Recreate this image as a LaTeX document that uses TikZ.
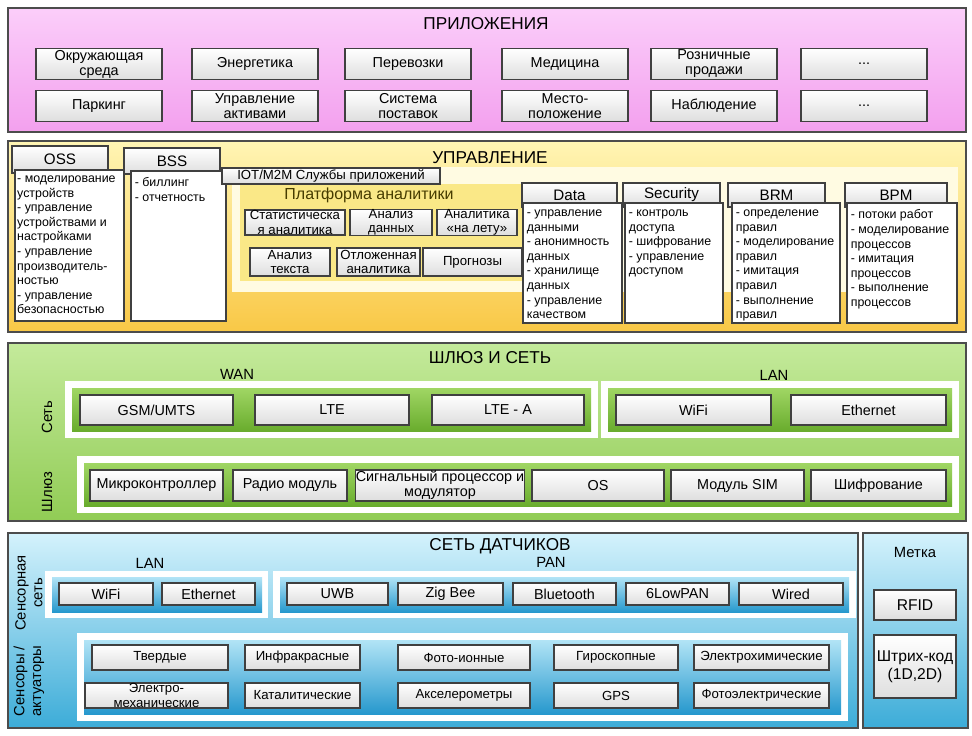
\documentclass[tikz,border=0pt]{standalone}
\usepackage{fontspec}
\setmainfont{Liberation Sans}

\definecolor{pinkTop}{RGB}{251,206,250}
\definecolor{pinkBot}{RGB}{243,160,238}
\definecolor{yelTop}{RGB}{255,245,180}
\definecolor{yelBot}{RGB}{249,200,70}
\definecolor{yelPanel}{RGB}{255,251,226}
\definecolor{yelPlat}{RGB}{250,232,135}
\definecolor{platText}{RGB}{70,60,0}
\definecolor{grnTop}{RGB}{196,234,155}
\definecolor{grnBot}{RGB}{145,204,85}
\definecolor{grnBandTop}{RGB}{160,214,100}
\definecolor{grnBandBot}{RGB}{105,172,45}
\definecolor{bluTop}{RGB}{212,242,252}
\definecolor{bluBot}{RGB}{60,172,216}
\definecolor{bluBandTop}{RGB}{178,228,246}
\definecolor{bluBandBot}{RGB}{38,152,205}

\begin{document}
\begin{tikzpicture}[x=0.5pt, y=-0.5pt,
    section/.style={draw=black!70, line width=0.7pt},
    box/.style={draw=black!75, top color=white, bottom color=black!13, line width=0.6pt,
        align=center, inner sep=0pt, font=\fontsize{7.2}{7.5}\selectfont},
    smallbox/.style={box, font=\fontsize{6.6}{7.2}\selectfont},
    head/.style={box, font=\fontsize{7.6}{9}\selectfont},
    listbox/.style={draw=black!75, fill=white, line width=0.6pt, inner sep=0pt},
    listtext/.style={anchor=north west, align=left, inner sep=0pt, font=\fontsize{6.2}{7.3}\selectfont},
    title/.style={font=\fontsize{8.6}{10}\selectfont, inner sep=0pt},
    sublabel/.style={font=\fontsize{7.4}{8.4}\selectfont, inner sep=0pt, align=center}]
    %--------------------%
    % Parameters
    %--------------------%
    \def\apw{63pt}
    \def\aph{15.5pt}
    \def\gwh{15pt}

    \useasboundingbox (0,0) rectangle (972,735);

    %--------------------%
    % Applications
    %--------------------%
    \draw[section, top color=pinkTop, bottom color=pinkBot] (8,8) rectangle (966,132);
    \node[title] (apptitle) at (486,24) {ПРИЛОЖЕНИЯ};

    \node[box, minimum width=\apw, minimum height=\aph] (env) at (99,64) {Окружающая\\среда};
    \node[box, minimum width=\apw, minimum height=\aph] (energy) at (255,64) {Энергетика};
    \node[box, minimum width=\apw, minimum height=\aph] (transport) at (408,64) {Перевозки};
    \node[box, minimum width=\apw, minimum height=\aph] (medicine) at (565,64) {Медицина};
    \node[box, minimum width=\apw, minimum height=\aph] (retail) at (714,64) {Розничные\\продажи};
    \node[box, minimum width=\apw, minimum height=\aph] (moreA) at (864,64) {...};
    \node[box, minimum width=\apw, minimum height=\aph] (parking) at (99,106) {Паркинг};
    \node[box, minimum width=\apw, minimum height=\aph] (assets) at (255,106) {Управление\\активами};
    \node[box, minimum width=\apw, minimum height=\aph] (supply) at (408,106) {Система\\поставок};
    \node[box, minimum width=\apw, minimum height=\aph] (location) at (565,106) {Место-\\положение};
    \node[box, minimum width=\apw, minimum height=\aph] (watch) at (714,106) {Наблюдение};
    \node[box, minimum width=\apw, minimum height=\aph] (moreB) at (864,106) {...};

    %--------------------%
    % Management
    %--------------------%
    \draw[section, top color=yelTop, bottom color=yelBot] (8,141) rectangle (966,332);
    \fill[yelPanel] (232,167) rectangle (958,292);
    \fill[yelPlat] (240,184) rectangle (525,281);
    \node[title] (mgmttitle) at (490,158) {УПРАВЛЕНИЕ};

    % OSS / BSS
    \node[head, minimum width=48pt, minimum height=13.5pt] (ossh) at (60,159.5) {OSS};
    \node[listbox, minimum width=54.5pt, minimum height=75.5pt] (oss) at (69.5,245.5) {};
    \node[listtext] (osstext) at ([shift={(1.2pt,-3pt)}]oss.north west)
        {- моделирование\\устройств\\- управление\\устройствами и\\настройками\\- управление\\производитель-\\ностью\\- управление\\безопасностью};
    \node[head, minimum width=48pt, minimum height=13pt] (bssh) at (172,161) {BSS};
    \node[listbox, minimum width=47.5pt, minimum height=75pt] (bss) at (178.5,246) {};
    \node[listtext] (bsstext) at ([shift={(2pt,-3.5pt)}]bss.north west) {- биллинг\\- отчетность};

    % Analytics platform
    \node[smallbox, minimum width=109pt, minimum height=8pt] (iot) at (331,176) {IOT/M2M Службы приложений};
    \node[title, text=platText, font=\fontsize{8}{9}\selectfont] (platform) at (369,195) {Платформа аналитики};
    \node[smallbox, minimum width=50pt, minimum height=12.5pt] (stat) at (295,222.5) {Статистическа\\я аналитика};
    \node[smallbox, minimum width=41pt, minimum height=12.5pt] (dataan) at (391,222.5) {Анализ\\данных};
    \node[smallbox, minimum width=40pt, minimum height=12.5pt] (live) at (477,222.5) {Аналитика\\«на лету»};
    \node[smallbox, minimum width=40pt, minimum height=14pt] (textan) at (290,262) {Анализ\\текста};
    \node[smallbox, minimum width=41.5pt, minimum height=14pt] (delayed) at (378.5,262) {Отложенная\\аналитика};
    \node[smallbox, minimum width=49.5pt, minimum height=14pt] (forecast) at (472.5,262) {Прогнозы};

    % Data / Security / BRM / BPM
    \node[head, minimum width=47.5pt, minimum height=12pt] (datah) at (569.5,195) {Data};
    \node[listbox, minimum width=49.5pt, minimum height=60pt] (data) at (572.5,263) {};
    \node[listtext] (datatext) at ([shift={(2pt,-3.5pt)}]data.north west)
        {- управление\\данными\\- анонимность\\данных\\- хранилище\\данных\\- управление\\качеством};
    \node[head, minimum width=48.5pt, minimum height=12pt] (sech) at (671.5,195) {Security};
    \node[listbox, minimum width=49pt, minimum height=60pt] (sec) at (674,263) {};
    \node[listtext] (sectext) at ([shift={(2pt,-3.5pt)}]sec.north west)
        {- контроль\\доступа\\- шифрование\\- управление\\доступом};
    \node[head, minimum width=48.5pt, minimum height=12pt] (brmh) at (776.5,195) {BRM};
    \node[listbox, minimum width=54pt, minimum height=60pt] (brm) at (786,263) {};
    \node[listtext] (brmtext) at ([shift={(2pt,-3.5pt)}]brm.north west)
        {- определение\\правил\\- моделирование\\правил\\- имитация\\правил\\- выполнение\\правил};
    \node[head, minimum width=51pt, minimum height=12pt] (bpmh) at (896,195) {BPM};
    \node[listbox, minimum width=55pt, minimum height=60pt] (bpm) at (902,263) {};
    \node[listtext] (bpmtext) at ([shift={(2pt,-3.5pt)}]bpm.north west)
        {- потоки работ\\- моделирование\\процессов\\- имитация\\процессов\\- выполнение\\процессов};

    %--------------------%
    % Gateway and network
    %--------------------%
    \draw[section, top color=grnTop, bottom color=grnBot] (8,343) rectangle (966,521);
    \node[title] (gwtitle) at (490,358) {ШЛЮЗ И СЕТЬ};
    \node[sublabel] (wanlbl) at (237,374) {WAN};
    \node[sublabel] (lanlbl) at (774,375) {LAN};
    \node[sublabel, rotate=90] (netlbl) at (47,417) {Сеть};
    \node[sublabel, rotate=90] (gwlbl) at (47,492) {Шлюз};

    \fill[white] (65,381) rectangle (598,438);
    \fill[top color=grnBandTop, bottom color=grnBandBot] (72,388) rectangle (591,431);
    \fill[white] (601,381) rectangle (959,438);
    \fill[top color=grnBandTop, bottom color=grnBandBot] (608,388) rectangle (952,431);
    \node[box, minimum width=76.5pt, minimum height=\gwh] (gsm) at (156.5,410) {GSM/UMTS};
    \node[box, minimum width=77pt, minimum height=\gwh] (lte) at (332,410) {LTE};
    \node[box, minimum width=76pt, minimum height=\gwh] (ltea) at (508,410) {LTE - A};
    \node[box, minimum width=77.5pt, minimum height=\gwh] (wifi) at (693.5,410) {WiFi};
    \node[box, minimum width=77.5pt, minimum height=\gwh] (eth) at (868.5,410) {Ethernet};

    \fill[white] (77,456) rectangle (959,513);
    \fill[top color=grnBandTop, bottom color=grnBandBot] (84,463) rectangle (952,506);
    \node[box, minimum width=66.5pt, minimum height=\aph] (mcu) at (156.5,485.5) {Микроконтроллер};
    \node[box, minimum width=57pt, minimum height=\aph] (radio) at (290,485.5) {Радио модуль};
    \node[box, minimum width=84pt, minimum height=\aph] (dsp) at (440,485.5) {Сигнальный процессор и\\модулятор};
    \node[box, minimum width=66pt, minimum height=\aph] (os) at (598,485.5) {OS};
    \node[box, minimum width=66.5pt, minimum height=\aph] (sim) at (737.5,485.5) {Модуль SIM};
    \node[box, minimum width=67.5pt, minimum height=\aph] (crypt) at (878.5,485.5) {Шифрование};

    %--------------------%
    % Sensor network
    %--------------------%
    \draw[section, top color=bluTop, bottom color=bluBot] (8,533) rectangle (858,728);
    \node[title] (sntitle) at (500,546) {СЕТЬ ДАТЧИКОВ};
    \node[sublabel] (slanlbl) at (150,563) {LAN};
    \node[sublabel] (panlbl) at (551,562) {PAN};
    \node[sublabel, rotate=90] (snetlbl) at (29,593) {Сенсорная\\сеть};
    \node[sublabel, rotate=90] (actlbl) at (29,681) {Сенсоры /\\актуаторы};

    \fill[white] (45,571) rectangle (268,618);
    \fill[top color=bluBandTop, bottom color=bluBandBot] (52,577) rectangle (262,612);
    \node[box, minimum width=47pt, minimum height=11pt] (swifi) at (106,594) {WiFi};
    \node[box, minimum width=46.5pt, minimum height=11pt] (seth) at (208.5,594) {Ethernet};

    \fill[white] (273,571) rectangle (856,618);
    \fill[top color=bluBandTop, bottom color=bluBandBot] (280,577) rectangle (849,612);
    \node[box, minimum width=50.5pt, minimum height=11pt] (uwb) at (337.5,594) {UWB};
    \node[box, minimum width=52.5pt, minimum height=11pt] (zigbee) at (450.5,594) {Zig Bee};
    \node[box, minimum width=51.5pt, minimum height=11pt] (bt) at (564.5,594) {Bluetooth};
    \node[box, minimum width=51.5pt, minimum height=11pt] (lowpan) at (677.5,594) {6LowPAN};
    \node[box, minimum width=52pt, minimum height=11pt] (wired) at (791,594) {Wired};

    \fill[white] (77,633) rectangle (848,721);
    \fill[top color=bluBandTop, bottom color=bluBandBot] (84,640) rectangle (841,714);
    \node[smallbox, minimum width=68pt, minimum height=12.5pt] (solid) at (160,657.5) {Твердые};
    \node[smallbox, minimum width=57.5pt, minimum height=12.5pt] (ir) at (302.5,657.5) {Инфракрасные};
    \node[smallbox, minimum width=66pt, minimum height=12.5pt] (photoion) at (464,657.5) {Фото-ионные};
    \node[smallbox, minimum width=62pt, minimum height=12.5pt] (gyro) at (616,657.5) {Гироскопные};
    \node[smallbox, minimum width=67.5pt, minimum height=12.5pt] (echem) at (761.5,657.5) {Электрохимические};
    \node[smallbox, minimum width=71.5pt, minimum height=12.5pt] (emech) at (156.5,695.5) {Электро-\\механические};
    \node[smallbox, minimum width=57.5pt, minimum height=12.5pt] (catal) at (302.5,695.5) {Каталитические};
    \node[smallbox, minimum width=66pt, minimum height=12.5pt] (accel) at (464,695.5) {Акселерометры};
    \node[smallbox, minimum width=62pt, minimum height=12.5pt] (gps) at (616,695.5) {GPS};
    \node[smallbox, minimum width=67.5pt, minimum height=12.5pt] (photoel) at (761.5,695.5) {Фотоэлектрические};

    %--------------------%
    % Tag
    %--------------------%
    \draw[section, top color=bluTop, bottom color=bluBot] (863,533) rectangle (968,728);
    \node[sublabel] (taglbl) at (915,552) {Метка};
    \node[box, minimum width=41pt, minimum height=15pt, font=\fontsize{7.8}{9}\selectfont] (rfid) at (915,605) {RFID};
    \node[box, minimum width=41pt, minimum height=31.5pt, font=\fontsize{7.8}{9}\selectfont] (barcode) at (915,666.5) {Штрих-код\\(1D,2D)};
\end{tikzpicture}
\end{document}
